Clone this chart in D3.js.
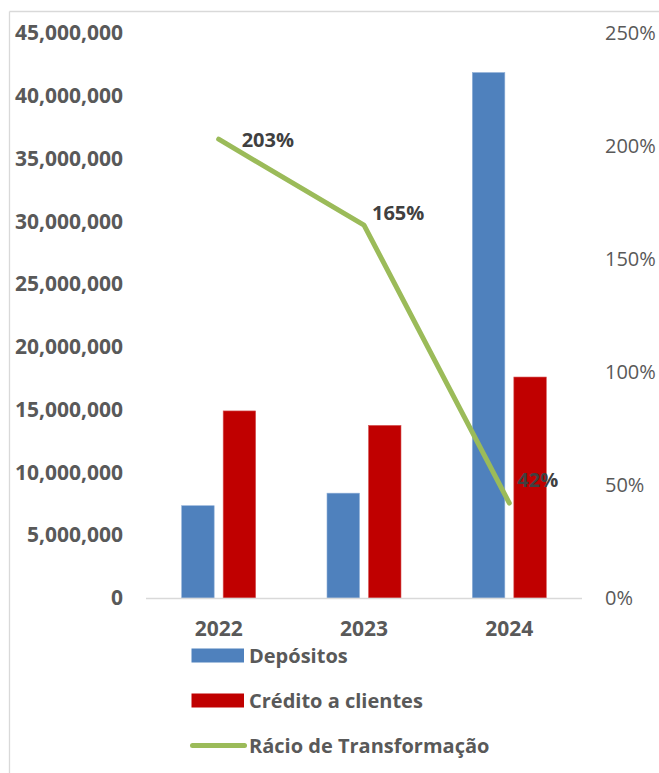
<!DOCTYPE html>
<html>
<head>
<meta charset="utf-8">
<script src="https://cdn.jsdelivr.net/npm/d3@7/dist/d3.min.js"></script>
<style>
  html, body { margin: 0; padding: 0; background: #fff; }
  svg { display: block; font-family: "Open Sans", "DejaVu Sans", sans-serif; }
</style>
</head>
<body>
<svg id="chart" width="659" height="773"></svg>
<script>
const categories = ["2022", "2023", "2024"];
const depositos = [7350000, 8350000, 41850000];
const credito = [14900000, 13750000, 17600000];
const racio = [2.03, 1.65, 0.42];
const racioLabels = ["203%", "165%", "42%"];
const leftTicks = [0, 5000000, 10000000, 15000000, 20000000, 25000000, 30000000, 35000000, 40000000, 45000000];
const rightTicks = [0, 0.5, 1.0, 1.5, 2.0, 2.5];
const seriesNames = ["Depósitos", "Crédito a clientes", "Rácio de Transformação"];
const colors = ["#4F81BD", "#C00000", "#9BBB59"];

const svg = d3.select("#chart");

// chart area border (left & top visible)
svg.append("line").attr("x1", 9.5).attr("y1", 11.5).attr("x2", 659).attr("y2", 11.5)
  .attr("stroke", "#d9d9d9").attr("stroke-width", 1.3);
svg.append("line").attr("x1", 9.5).attr("y1", 11.5).attr("x2", 9.5).attr("y2", 773)
  .attr("stroke", "#d9d9d9").attr("stroke-width", 1.3);

const plot = { left: 146, right: 582, top: 33, bottom: 598 };

const x = d3.scaleBand().domain(categories).range([plot.left, plot.right]).paddingInner(0).paddingOuter(0);
const yL = d3.scaleLinear().domain([0, 45000000]).range([plot.bottom, plot.top]);
const yR = d3.scaleLinear().domain([0, 2.5]).range([plot.bottom, plot.top]);

const barW = 32.5, gap = 9;
const fmt = d3.format(",");

// left axis
const leftAxis = d3.axisLeft(yL).tickValues(leftTicks).tickFormat(d => fmt(d)).tickSize(0).tickPadding(0);
const gL = svg.append("g").attr("transform", "translate(123,0)").call(leftAxis);
gL.select(".domain").remove();
gL.selectAll("text").attr("font-family", "'Open Sans', sans-serif").attr("font-size", 21)
  .attr("font-weight", "bold").attr("fill", "#595959");

// right axis
const rightAxis = d3.axisRight(yR).tickValues(rightTicks).tickFormat(d3.format(".0%")).tickSize(0).tickPadding(0);
const gR = svg.append("g").attr("transform", "translate(605,0)").call(rightAxis);
gR.select(".domain").remove();
gR.selectAll("text").attr("font-family", "'Open Sans', sans-serif").attr("font-size", 20)
  .attr("fill", "#595959");

// bars
const groups = svg.append("g");
categories.forEach((c, i) => {
  const cx = x(c) + x.bandwidth() / 2;
  groups.append("rect")
    .attr("x", cx - gap / 2 - barW).attr("width", barW)
    .attr("y", yL(depositos[i])).attr("height", yL(0) - yL(depositos[i]))
    .attr("fill", colors[0]).attr("stroke", "#8fb0d8").attr("stroke-width", 0.6);
  groups.append("rect")
    .attr("x", cx + gap / 2).attr("width", barW)
    .attr("y", yL(credito[i])).attr("height", yL(0) - yL(credito[i]))
    .attr("fill", colors[1]).attr("stroke", "#d65a5a").attr("stroke-width", 0.6);
});

// baseline
svg.append("line").attr("x1", plot.left).attr("x2", plot.right)
  .attr("y1", plot.bottom + 0.5).attr("y2", plot.bottom + 0.5)
  .attr("stroke", "#d9d9d9").attr("stroke-width", 1.5);

// x axis labels
const bottomAxis = d3.axisBottom(x).tickSize(0).tickPadding(0);
const gB = svg.append("g").attr("transform", `translate(0,${plot.bottom + 23})`).call(bottomAxis);
gB.select(".domain").remove();
gB.selectAll("text").attr("font-family", "'Open Sans', sans-serif").attr("font-size", 21)
  .attr("font-weight", "bold").attr("fill", "#595959");

// line
const line = d3.line()
  .x((d, i) => x(categories[i]) + x.bandwidth() / 2)
  .y(d => yR(d));
svg.append("path").datum(racio).attr("d", line)
  .attr("fill", "none").attr("stroke", colors[2]).attr("stroke-width", 5)
  .attr("stroke-linecap", "round").attr("stroke-linejoin", "round");

// data labels
const labelOffsets = [[23, 1], [8, -12], [8, -23]];
racio.forEach((v, i) => {
  svg.append("text")
    .attr("x", x(categories[i]) + x.bandwidth() / 2 + labelOffsets[i][0])
    .attr("y", yR(v) + labelOffsets[i][1])
    .attr("dy", "0.35em")
    .attr("font-size", 20).attr("font-weight", "bold").attr("fill", "#404040")
    .text(racioLabels[i]);
});

// legend
const leg = svg.append("g");
const legY = [655.5, 700.5, 745.5];
seriesNames.forEach((name, i) => {
  if (i < 2) {
    leg.append("rect").attr("x", 191.5).attr("y", legY[i] - 7).attr("width", 52.5).attr("height", 14)
      .attr("fill", colors[i]);
  } else {
    leg.append("line").attr("x1", 192.5).attr("x2", 244.5).attr("y1", legY[i]).attr("y2", legY[i])
      .attr("stroke", colors[2]).attr("stroke-width", 5).attr("stroke-linecap", "round");
  }
  leg.append("text").attr("x", 249).attr("y", legY[i]).attr("dy", "0.35em")
    .attr("font-size", 20).attr("font-weight", "bold").attr("fill", "#595959")
    .text(name);
});
</script>
</body>
</html>
